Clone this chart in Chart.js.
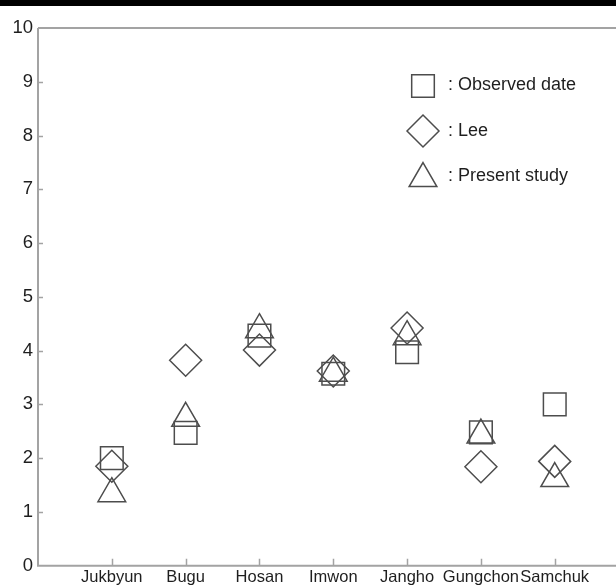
<!DOCTYPE html>
<html>
<head>
<meta charset="utf-8">
<script src="https://cdn.jsdelivr.net/npm/chart.js@4/dist/chart.umd.min.js"></script>
<style>
  html, body { margin: 0; padding: 0; background: #fff; overflow: hidden; }
  canvas { display: block; }
</style>
</head>
<body>
<canvas id="c" width="616" height="587"></canvas>
<script>
// Stations along the coast and the three sets of values per station
const stations = ['Jukbyun', 'Bugu', 'Hosan', 'Imwon', 'Jangho', 'Gungchon', 'Samchuk'];
const observed = [2.00, 2.47, 4.28, 3.57, 3.97, 2.48, 3.00];
const lee      = [1.85, 3.82, 4.01, 3.62, 4.42, 1.84, 1.94];
const present  = [1.34, 2.74, 4.39, 3.58, 4.26, 2.43, 1.62];
const yTicks   = [0, 1, 2, 3, 4, 5, 6, 7, 8, 9, 10];

const legendNames = [': Observed date', ': Lee', ': Present study'];

const AXIS_COLOR = '#a3a3a3';
const MARK_COLOR = '#4d4d4d';
const TEXT_COLOR = '#1e1e1e';
const FONT = '"Liberation Sans", Arial, Helvetica, sans-serif';

const toPoints = arr => arr.map((v, i) => ({ x: i + 1, y: v }));

const markerBase = {
  showLine: false,
  pointRadius: 16,
  pointHoverRadius: 16,
  pointBorderWidth: 1.5,
  pointBorderColor: MARK_COLOR,
  pointBackgroundColor: 'rgba(0,0,0,0)',
  borderColor: MARK_COLOR,
  backgroundColor: 'rgba(0,0,0,0)'
};

const datasets = [
  Object.assign({ label: legendNames[0], data: toPoints(observed), pointStyle: 'rect' }, markerBase),
  Object.assign({ label: legendNames[1], data: toPoints(lee), pointStyle: 'rectRot' }, markerBase),
  Object.assign({ label: legendNames[2], data: toPoints(present), pointStyle: 'triangle' }, markerBase)
];

// Frame, inward tick marks and the boxed legend
const framePlugin = {
  id: 'frame',
  beforeDraw(chart) {
    const ctx = chart.ctx;
    ctx.save();
    ctx.fillStyle = '#ffffff';
    ctx.fillRect(0, 0, chart.width, chart.height);
    ctx.fillStyle = '#000000';
    ctx.fillRect(0, 0, chart.width, 6);
    ctx.restore();
  },
  beforeDatasetsDraw(chart) {
    const { ctx, chartArea: a, scales } = chart;
    ctx.save();
    ctx.strokeStyle = AXIS_COLOR;
    ctx.lineWidth = 2;
    ctx.beginPath();
    ctx.moveTo(a.left, a.top);
    ctx.lineTo(chart.width, a.top);
    ctx.moveTo(a.left, a.top);
    ctx.lineTo(a.left, a.bottom);
    ctx.lineTo(chart.width, a.bottom);
    ctx.stroke();

    ctx.lineWidth = 1.5;
    ctx.beginPath();
    scales.y.ticks.forEach(t => {
      if (t.value <= 0 || t.value >= 10) return;
      const py = Math.round(scales.y.getPixelForValue(t.value)) + 0.5;
      ctx.moveTo(a.left, py);
      ctx.lineTo(a.left + 5, py);
    });
    scales.x.ticks.forEach(t => {
      const px = Math.round(scales.x.getPixelForValue(t.value)) + 0.5;
      ctx.moveTo(px, a.bottom);
      ctx.lineTo(px, a.bottom - 7);
    });
    ctx.stroke();
    ctx.restore();
  },
  afterDraw(chart) {
    const { ctx, chartArea: a } = chart;
    const mx = a.left + 385;
    const tx = a.left + 410;
    const rows = [
      { marker: 86, text: 85 },
      { marker: 131, text: 131 },
      { marker: 178.5, text: 176 }
    ];
    ctx.save();
    chart.data.datasets.forEach((ds, i) => {
      ctx.strokeStyle = MARK_COLOR;
      ctx.fillStyle = 'rgba(0,0,0,0)';
      ctx.lineWidth = 1.5;
      Chart.helpers.drawPoint(ctx, {
        pointStyle: ds.pointStyle,
        radius: 16,
        borderWidth: 1.5,
        rotation: 0
      }, mx, rows[i].marker);
      ctx.fillStyle = TEXT_COLOR;
      ctx.font = '18px ' + FONT;
      ctx.textAlign = 'left';
      ctx.textBaseline = 'middle';
      ctx.fillText(ds.label, tx, rows[i].text);
    });
    ctx.restore();
  }
};

new Chart(document.getElementById('c'), {
  type: 'scatter',
  data: { datasets },
  options: {
    responsive: false,
    animation: false,
    events: [],
    layout: {
      autoPadding: false,
      padding: { top: 28, left: 0, right: 0, bottom: 0 }
    },
    plugins: {
      legend: { display: false },
      tooltip: { enabled: false }
    },
    scales: {
      x: {
        type: 'linear',
        min: 0,
        max: 7.83,
        afterBuildTicks: scale => {
          scale.ticks = stations.map((s, i) => ({ value: i + 1 }));
        },
        afterFit: scale => {
          scale.height = 21.3;
          scale.paddingLeft = 0;
          scale.paddingRight = 0;
        },
        grid: { display: false, drawTicks: false },
        border: { display: false },
        ticks: {
          autoSkip: false,
          maxRotation: 0,
          padding: 2,
          color: TEXT_COLOR,
          font: { family: FONT, size: 16.5 },
          callback: v => stations[v - 1] || ''
        }
      },
      y: {
        type: 'linear',
        min: 0,
        max: 10,
        afterBuildTicks: scale => {
          scale.ticks = yTicks.map(v => ({ value: v }));
        },
        afterFit: scale => {
          scale.width = 38;
          scale.paddingTop = 0;
          scale.paddingBottom = 0;
        },
        grid: { display: false, drawTicks: false },
        border: { display: false },
        ticks: {
          padding: 5,
          color: TEXT_COLOR,
          font: { family: FONT, size: 18.5 },
          callback: v => String(v)
        }
      }
    }
  },
  plugins: [framePlugin]
});
</script>
</body>
</html>
